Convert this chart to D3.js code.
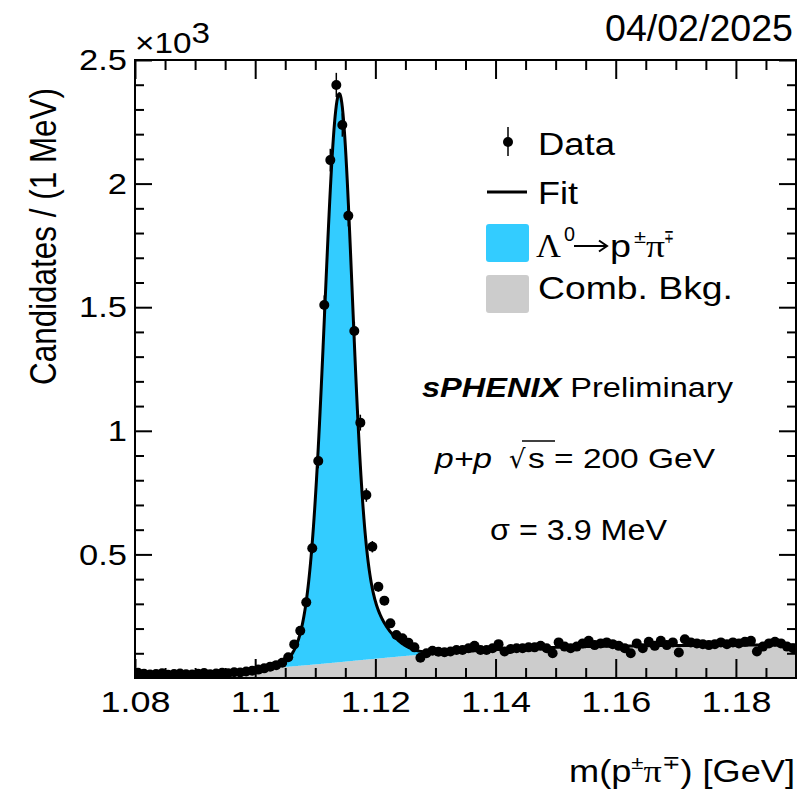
<!DOCTYPE html>
<html>
<head>
<meta charset="utf-8">
<script src="https://cdn.jsdelivr.net/npm/d3@7/dist/d3.min.js"></script>
<style>
  html, body { margin: 0; padding: 0; background: #ffffff; }
  svg { display: block; font-family: "Liberation Sans", Arial, Helvetica, sans-serif; }
</style>
</head>
<body>
<svg id="chart" width="797" height="793"></svg>
<script>
// ---- Histogram: candidates per 1 MeV bin, m(p pi) from 1.080 to 1.190 GeV ----
const binLow = 1.08;
const binWidth = 0.001;
const counts = [
  21, 17, 14, 16, 19, 13, 16, 18, 15, 14,
  17, 20, 15, 18, 21, 19, 23, 22, 26, 29,
  34, 39, 46, 52, 62, 84, 136, 191, 306, 525,
  878, 1509, 2095, 2399, 2237, 1870, 1404, 1033, 740, 531,
  369, 313, 221, 174, 161, 143, 124, 82, 100, 110,
  106, 104, 107, 113, 113, 120, 130, 113, 113, 120,
  137, 107, 117, 120, 120, 124, 124, 130, 120, 100,
  144, 127, 120, 127, 140, 151, 133, 140, 144, 137,
  130, 120, 100, 140, 120, 147, 130, 151, 133, 144,
  103, 157, 144, 140, 137, 133, 137, 144, 137, 144,
  140, 147, 151, 107, 127, 140, 147, 140, 127, 120
];

// ---- Fit result: bifurcated double Gaussian signal + threshold background ----
const sigMean = 1.11400;                 // GeV
const sigCoreAmp = [1800, 1910];         // [left, right]
const sigCoreWidth = [2.3, 2.1];         // MeV, [left, right]
const sigTailAmp = [500, 390];
const sigTailWidth = [3.6, 5.2];
const bkgPars = { floor: 8, height: 126, turnOn: 1.117, width: 0.0135 };

// ---- Axes ----
const xDomain = [1.08, 1.19];
const yDomain = [0, 2500];
const xMajorTicks = [1.08, 1.10, 1.12, 1.14, 1.16, 1.18];
const xTickLabels = ["1.08", "1.1", "1.12", "1.14", "1.16", "1.18"];
const yMajorTicks = [500, 1000, 1500, 2000, 2500];
const yTickLabels = ["0.5", "1", "1.5", "2", "2.5"];

// ---- Legend ----
const legendLabels = ["Data", "Fit", "Comb. Bkg."];
const signalColor = "#33ccff";
const bkgColor = "#cccccc";

const svg = d3.select("#chart");
const frame = { left: 135, top: 60, right: 796, bottom: 678 };

const x = d3.scaleLinear().domain(xDomain).range([frame.left, frame.right]);
const y = d3.scaleLinear().domain(yDomain).range([frame.bottom, frame.top]);

function gauss(d, s) { return Math.exp(-d * d / (2 * s * s)); }
function signal(m) {
  const d = (m - sigMean) * 1000;
  const k = d < 0 ? 0 : 1;
  return sigCoreAmp[k] * gauss(d, sigCoreWidth[k]) + sigTailAmp[k] * gauss(d, sigTailWidth[k]);
}
function background(m) {
  return bkgPars.floor + bkgPars.height / (1 + Math.exp(-(m - bkgPars.turnOn) / bkgPars.width));
}

const curveMass = d3.range(0, 1101).map(k => xDomain[0] + k * 0.0001);

svg.append("defs").append("clipPath").attr("id", "plotClip")
  .append("rect")
  .attr("x", frame.left).attr("y", frame.top)
  .attr("width", frame.right - frame.left).attr("height", frame.bottom - frame.top);

const plot = svg.append("g").attr("clip-path", "url(#plotClip)");

// combinatorial background
plot.append("path")
  .datum(curveMass)
  .attr("fill", bkgColor)
  .attr("d", d3.area().x(m => x(m)).y0(y(0)).y1(m => y(background(m))));

// signal on top of the background
plot.append("path")
  .datum(curveMass)
  .attr("fill", signalColor)
  .attr("d", d3.area().x(m => x(m)).y0(m => y(background(m))).y1(m => y(background(m) + signal(m))));

// total fit
plot.append("path")
  .datum(curveMass)
  .attr("fill", "none")
  .attr("stroke", "#000")
  .attr("stroke-width", 3)
  .attr("stroke-linejoin", "round")
  .attr("d", d3.line().x(m => x(m)).y(m => y(background(m) + signal(m))));

// data points with Poisson errors
const points = counts.map((c, i) => ({ m: binLow + (i + 0.5) * binWidth, c }));
plot.append("g").selectAll("line").data(points).join("line")
  .attr("x1", d => x(d.m)).attr("x2", d => x(d.m))
  .attr("y1", d => y(d.c - Math.sqrt(d.c))).attr("y2", d => y(d.c + Math.sqrt(d.c)))
  .attr("stroke", "#000").attr("stroke-width", 1.5);
plot.append("g").selectAll("circle").data(points).join("circle")
  .attr("cx", d => x(d.m)).attr("cy", d => y(d.c)).attr("r", 5)
  .attr("fill", "#000");

// frame
svg.append("rect")
  .attr("x", frame.left).attr("y", frame.top)
  .attr("width", frame.right - frame.left).attr("height", frame.bottom - frame.top)
  .attr("fill", "none").attr("stroke", "#000").attr("stroke-width", 2);

const xMinorTicks = d3.range(0, 23).filter(k => k % 4 !== 0).map(k => xDomain[0] + k * 0.005);
const yMinorTicks = d3.range(0, 26).filter(k => k % 5 !== 0).map(k => k * 100);

function styleAxis(g) {
  g.select(".domain").remove();
  g.selectAll(".tick line").attr("stroke", "#000").attr("stroke-width", 2);
  g.selectAll(".tick text").attr("fill", "#000");
}

const gx = svg.append("g").attr("transform", `translate(0,${frame.bottom})`)
  .call(d3.axisBottom(x).tickValues(xMajorTicks).tickFormat((d, i) => xTickLabels[i])
    .tickSize(-19).tickSizeOuter(0).tickPadding(13))
  .call(styleAxis);
gx.selectAll(".tick text").attr("font-size", 30).attr("font-family", "Liberation Sans, Arial, sans-serif")
  .attr("transform", "scale(1.2,1)");
svg.append("g").attr("transform", `translate(0,${frame.bottom})`)
  .call(d3.axisBottom(x).tickValues(xMinorTicks).tickFormat("").tickSize(-10).tickSizeOuter(0))
  .call(styleAxis);
svg.append("g").attr("transform", `translate(0,${frame.top})`)
  .call(d3.axisTop(x).tickValues(xMajorTicks).tickFormat("").tickSize(-19).tickSizeOuter(0))
  .call(styleAxis);
svg.append("g").attr("transform", `translate(0,${frame.top})`)
  .call(d3.axisTop(x).tickValues(xMinorTicks).tickFormat("").tickSize(-10).tickSizeOuter(0))
  .call(styleAxis);

const gy = svg.append("g").attr("transform", `translate(${frame.left},0)`)
  .call(d3.axisLeft(y).tickValues(yMajorTicks).tickFormat((d, i) => yTickLabels[i])
    .tickSize(-17).tickSizeOuter(0).tickPadding(7))
  .call(styleAxis);
gy.selectAll(".tick text").attr("font-size", 30).attr("font-family", "Liberation Sans, Arial, sans-serif")
  .attr("transform", "scale(1.15,1)");
svg.append("g").attr("transform", `translate(${frame.left},0)`)
  .call(d3.axisLeft(y).tickValues(yMinorTicks).tickFormat("").tickSize(-9).tickSizeOuter(0))
  .call(styleAxis);
svg.append("g").attr("transform", `translate(${frame.right},0)`)
  .call(d3.axisRight(y).tickValues(yMajorTicks).tickFormat("").tickSize(-17).tickSizeOuter(0))
  .call(styleAxis);
svg.append("g").attr("transform", `translate(${frame.right},0)`)
  .call(d3.axisRight(y).tickValues(yMinorTicks).tickFormat("").tickSize(-9).tickSizeOuter(0))
  .call(styleAxis);

// ---- Text helpers ----
function label(px, py, size, len, anchor) {
  const t = svg.append("text")
    .attr("x", px).attr("y", py)
    .attr("font-size", size)
    .attr("fill", "#000")
    .attr("text-anchor", anchor || "start");
  if (len) t.attr("textLength", len).attr("lengthAdjust", "spacingAndGlyphs");
  return t;
}

// exponent of the y axis
const expo = label(135, 53, 30, 75);
expo.append("tspan").text("\u00d710");
expo.append("tspan").attr("dy", -10).text("3");

// date
label(793, 41, 36, 188, "end").text("04/02/2025");

// y title (glyphs widened across the line, as on the horizontal labels)
svg.append("text")
  .attr("transform", "translate(56,88) rotate(-90) scale(1,1.2)")
  .attr("text-anchor", "end")
  .attr("font-size", 31)
  .attr("textLength", 297).attr("lengthAdjust", "spacingAndGlyphs")
  .text("Candidates / (1 MeV)");

// x title
const xt = label(795, 782, 31, 226, "end");
xt.append("tspan").text("m(p");
xt.append("tspan").attr("font-size", 19).attr("dy", -13).text("\u00b1");
xt.append("tspan").attr("dy", 13).attr("font-family", "Liberation Serif, serif").text("\u03c0");
xt.append("tspan").attr("font-size", 19).attr("dy", -13).text("\u2213");
xt.append("tspan").attr("dy", 13).text(") [GeV]");

// ---- Legend ----
const legendMarkX = 508;
svg.append("line").attr("x1", legendMarkX).attr("x2", legendMarkX).attr("y1", 127).attr("y2", 156)
  .attr("stroke", "#000").attr("stroke-width", 1.5);
svg.append("circle").attr("cx", legendMarkX).attr("cy", 142).attr("r", 5).attr("fill", "#000");
label(538, 155, 31, 77).text(legendLabels[0]);

svg.append("line").attr("x1", 487).attr("x2", 527).attr("y1", 192).attr("y2", 192)
  .attr("stroke", "#000").attr("stroke-width", 3);
label(538, 203.5, 31, 40).text(legendLabels[1]);

svg.append("rect").attr("x", 486).attr("y", 224).attr("width", 43).attr("height", 38)
  .attr("rx", 3).attr("fill", signalColor);
// Lambda -> p pi, assembled piece by piece
label(536, 256.5, 33, 25).attr("font-family", "Liberation Serif, serif").text("\u039b");
label(564, 241, 20, 11).text("0");
svg.append("line").attr("x1", 574).attr("x2", 606).attr("y1", 246).attr("y2", 246)
  .attr("stroke", "#000").attr("stroke-width", 2);
svg.append("path").attr("d", "M599,240.5 L607,246 L599,251.5")
  .attr("fill", "none").attr("stroke", "#000").attr("stroke-width", 2);
label(610, 256.5, 31, 21).text("p");
label(634, 243, 19, 12).text("\u00b1");
label(646, 256.5, 31, 19).attr("font-family", "Liberation Serif, serif").text("\u03c0");
label(664, 243, 19, 10).text("\u2213");

svg.append("rect").attr("x", 486).attr("y", 275).attr("width", 43).attr("height", 38)
  .attr("rx", 3).attr("fill", bkgColor);
label(538, 298.5, 31, 195).text(legendLabels[2]);

// ---- Annotations ----
const exp = label(422, 397, 27, 311);
exp.append("tspan").attr("font-weight", "bold").attr("font-style", "italic").text("sPHENIX");
exp.append("tspan").text(" Preliminary");

label(435, 468, 28, 57).attr("font-style", "italic").text("p+p");
label(509, 468, 28).attr("font-family", "DejaVu Sans, sans-serif").attr("font-size", 26).text("\u221a");
svg.append("line").attr("x1", 522).attr("x2", 555).attr("y1", 441).attr("y2", 441)
  .attr("stroke", "#000").attr("stroke-width", 1.5);
label(528, 468, 28, 187).text("s = 200 GeV");

label(490, 540, 29, 177).text("\u03c3 = 3.9 MeV");
</script>
</body>
</html>
